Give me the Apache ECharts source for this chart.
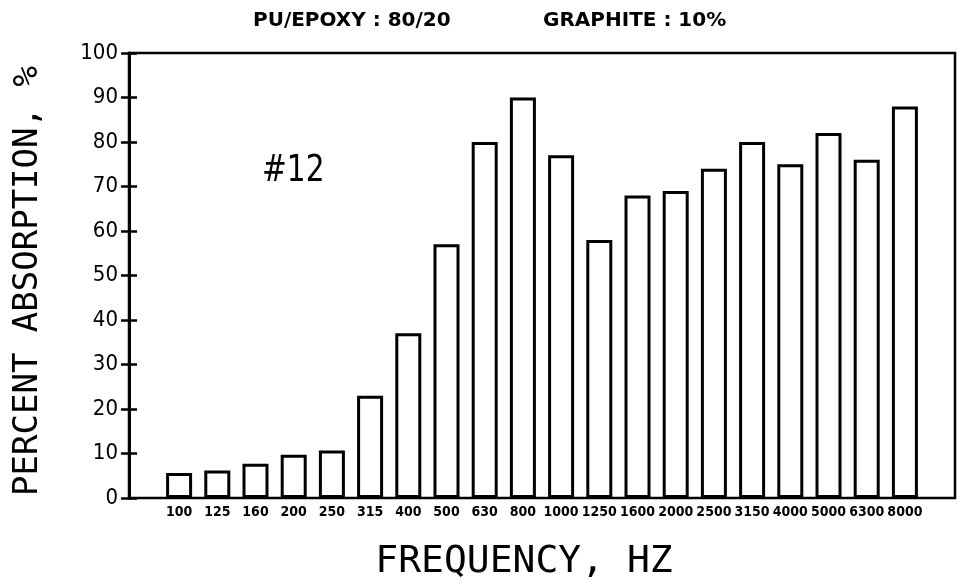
<!DOCTYPE html>
<html>
<head>
<meta charset="utf-8">
<style>
  html, body { margin: 0; padding: 0; background: #fff; }
  #chart { width: 958px; height: 588px; }
</style>
<script src="https://cdn.jsdelivr.net/npm/echarts@6/dist/echarts.min.js"></script>
</head>
<body>
<div id="chart"></div>
<script>
// ---- data ----
const categories = ['100','125','160','200','250','315','400','500','630','800','1000','1250','1600','2000','2500','3150','4000','5000','6300','8000'];
const absorption = [5.6, 6.2, 7.7, 9.7, 10.7, 23, 37, 57, 80, 90, 77, 58, 68, 69, 74, 80, 75, 82, 76, 88];
const yMin = 0, yMax = 100, yStep = 10;
const titleLeft = 'PU/EPOXY : 80/20';
const titleRight = 'GRAPHITE : 10%';
const sampleTag = '#12';
const xName = 'FREQUENCY, HZ';
const yName = 'PERCENT ABSORPTION, %';

const narrow = '"Liberation Sans Narrow", "DejaVu Sans Condensed", "Liberation Sans", sans-serif';
const mono = '"DejaVu Sans Mono", "Liberation Mono", monospace';

const chart = echarts.init(document.getElementById('chart'), null, { renderer: 'canvas' });
chart.setOption({
  animation: false,
  backgroundColor: '#fff',
  grid: [
    { left: 129, right: 3, top: 53, bottom: 90, show: true, borderColor: '#000', borderWidth: 2.5, backgroundColor: 'transparent' },
    { left: 160, right: 34, top: 53, bottom: 90 }
  ],
  xAxis: [
    { gridIndex: 0, type: 'value', min: 0, max: 1, show: false },
    {
      gridIndex: 1, type: 'category', data: categories,
      axisLine: { show: false }, axisTick: { show: false },
      axisLabel: { interval: 0, margin: 7, color: '#000', fontFamily: narrow, fontWeight: 'bold', fontSize: 14 }
    }
  ],
  yAxis: [
    {
      gridIndex: 0, type: 'value', min: yMin, max: yMax, interval: yStep, position: 'left',
      axisLine: { show: true, lineStyle: { color: '#000', width: 3 } },
      axisTick: { show: true, length: 8, lineStyle: { color: '#000', width: 2.5 } },
      axisLabel: { margin: 11, color: '#000', fontFamily: narrow, fontSize: 22 },
      splitLine: { show: false }
    },
    {
      gridIndex: 0, type: 'value', min: yMin, max: yMax, interval: yStep, position: 'left',
      axisLine: { show: false },
      axisTick: { show: true, inside: true, length: 8, lineStyle: { color: '#000', width: 2.5 } },
      axisLabel: { show: false },
      splitLine: { show: false }
    },
    { gridIndex: 1, type: 'value', min: yMin, max: yMax, show: false }
  ],
  series: [{
    type: 'bar', xAxisIndex: 1, yAxisIndex: 2, data: absorption, barWidth: 26, silent: true,
    itemStyle: { color: '#fff', borderColor: '#000', borderWidth: 3 }
  }],
  graphic: [
    { type: 'text', left: 253, top: 11, style: { text: titleLeft, fill: '#000', font: 'bold 20px "DejaVu Sans", sans-serif' } },
    { type: 'text', left: 543, top: 11, style: { text: titleRight, fill: '#000', font: 'bold 20px "DejaVu Sans", sans-serif' } },
    { type: 'text', x: 262, y: 171, scaleX: 0.78, style: { text: sampleTag, fill: '#000', font: '38px "DejaVu Sans", sans-serif', textAlign: 'left', textVerticalAlign: 'middle' } },
    { type: 'text', x: 524, y: 562, style: { text: xName, fill: '#000', font: '38px ' + mono, textAlign: 'center', textVerticalAlign: 'middle' } },
    { type: 'text', x: 28, y: 281, rotation: Math.PI / 2, style: { text: yName, fill: '#000', font: '34px ' + mono, textAlign: 'center', textVerticalAlign: 'middle' } }
  ]
});
</script>
</body>
</html>
